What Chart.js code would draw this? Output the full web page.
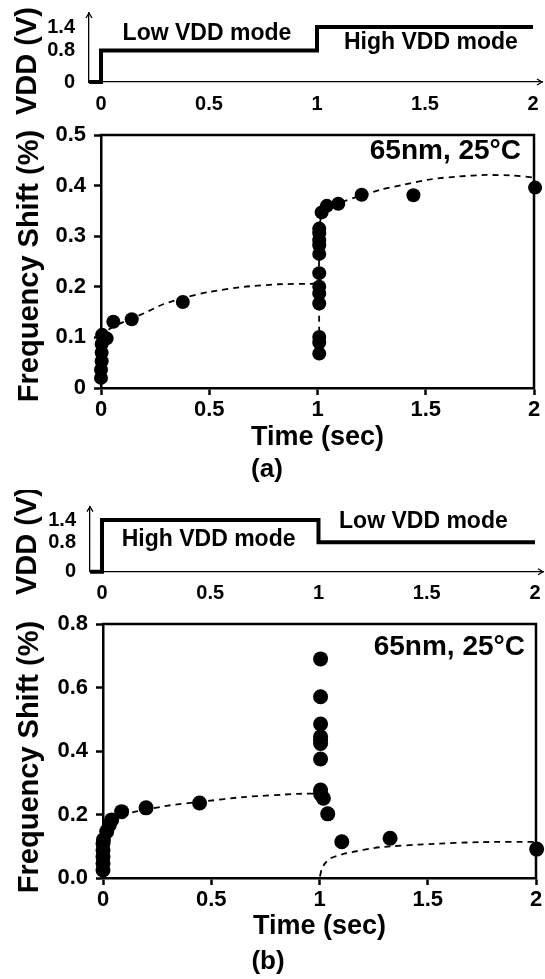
<!DOCTYPE html>
<html>
<head>
<meta charset="utf-8">
<title>Frequency shift vs time</title>
<script src="https://cdn.jsdelivr.net/npm/chart.js@4/dist/chart.umd.min.js"></script>
<style>
  body { margin: 0; background: #fff; }
  #wrap { position: relative; width: 545px; height: 979px; }
  canvas { position: absolute; left: 0; }
</style>
</head>
<body>
<div id="wrap">
  <canvas id="vddA" width="545" height="120" style="top:0px"></canvas>
  <canvas id="shiftA" width="545" height="370" style="top:120px"></canvas>
  <canvas id="vddB" width="545" height="120" style="top:490px"></canvas>
  <canvas id="shiftB" width="545" height="369" style="top:610px"></canvas>
</div>
<script>
const FONT = '"Liberation Sans", Arial, sans-serif';

// time axis (sec), same for every panel
const timeTicks = [0, 0.5, 1, 1.5, 2];
const timeTickLabels = ['0', '0.5', '1', '1.5', '2'];

// supply voltage steps
const vddTicks = [0, 0.8, 1.4];
const vddTickLabels = ['0', '0.8', '1.4'];
const vddTimeA = [-0.055, 0, 0, 1, 1, 2];
const vddLevelA = [0, 0, 0.8, 0.8, 1.4, 1.4];
const vddTimeB = [-0.055, 0, 0, 1, 1, 2];
const vddLevelB = [0, 0, 1.4, 1.4, 0.8, 0.8];

// (a) low VDD then high VDD : measured points
const timeA = [0.000, 0.000, 0.003, 0.003, 0.003, 0.005, 0.026, 0.057, 0.142, 0.378,
  1.008, 1.008, 1.008, 1.008, 1.008, 1.008, 1.008, 1.008, 1.008, 1.008, 1.008, 1.008,
  1.019, 1.043, 1.096, 1.204, 1.443, 2.005];
const shiftA = [0.020, 0.036, 0.053, 0.070, 0.087, 0.105, 0.098, 0.131, 0.136, 0.170,
  0.068, 0.090, 0.101, 0.167, 0.187, 0.200, 0.227, 0.265, 0.282, 0.292, 0.306, 0.315,
  0.347, 0.360, 0.364, 0.382, 0.381, 0.396];
// (a) dashed trends
const trendTimeA1 = [0, 0.03, 0.08, 0.14, 0.2, 0.29, 0.4, 0.5, 0.66, 0.82, 0.98, 1.0];
const trendShiftA1 = [0.100, 0.114, 0.126, 0.137, 0.148, 0.166, 0.180, 0.190, 0.200, 0.205, 0.206, 0.206];
const trendTimeA2 = [1.008, 1.008, 1.02, 1.05, 1.1, 1.2, 1.3, 1.4, 1.53, 1.65, 1.78, 1.9, 2.0];
const trendShiftA2 = [0.066, 0.310, 0.345, 0.358, 0.366, 0.380, 0.393, 0.402, 0.413, 0.418, 0.421, 0.420, 0.416];
const shiftTicksA = [0, 0.1, 0.2, 0.3, 0.4, 0.5];
const shiftTickLabelsA = ['0', '0.1', '0.2', '0.3', '0.4', '0.5'];

// (b) high VDD then low VDD : measured points
const timeB = [0.000, 0.000, 0.000, 0.000, 0.000, 0.002, 0.017, 0.029, 0.040, 0.086, 0.199, 0.446,
  1.005, 1.005, 1.005, 1.005, 1.005, 1.005, 1.005, 1.005, 1.005, 1.018, 1.038, 1.103, 1.326, 2.003];
const shiftB = [0.025, 0.046, 0.067, 0.088, 0.109, 0.120, 0.146, 0.167, 0.183, 0.209, 0.221, 0.236,
  0.690, 0.571, 0.485, 0.445, 0.435, 0.424, 0.375, 0.277, 0.265, 0.251, 0.202, 0.114, 0.125, 0.091];
// (b) dashed trends
const trendTimeB1 = [0, 0.005, 0.015, 0.03, 0.05, 0.09, 0.15, 0.3, 0.45, 0.65, 0.9, 1.0];
const trendShiftB1 = [0.120, 0.140, 0.158, 0.173, 0.186, 0.200, 0.209, 0.228, 0.240, 0.255, 0.265, 0.266];
const trendTimeB2 = [1.002, 1.01, 1.025, 1.05, 1.125, 1.28, 1.51, 1.74, 2.0];
const trendShiftB2 = [0.005, 0.027, 0.046, 0.062, 0.078, 0.097, 0.107, 0.113, 0.114];
const shiftTicksB = [0, 0.2, 0.4, 0.6, 0.8];
const shiftTickLabelsB = ['0.0', '0.2', '0.4', '0.6', '0.8'];

const pairs = (xs, ys) => xs.map((x, i) => ({ x: x, y: ys[i] }));
const bold = size => ({ family: FONT, size: size, weight: 'bold' });

// fixed ticks + fixed axis box size
function setTicks(values) {
  return scale => { scale.ticks = values.map(v => ({ value: v })); };
}
function setSize(prop, size) {
  return scale => {
    scale[prop] = size;
    scale.paddingLeft = scale.paddingRight = scale.paddingTop = scale.paddingBottom = 0;
  };
}

// text written on the chart (data coords, or pixel coords when rotated)
function notesPlugin(notes) {
  return {
    id: 'notes',
    afterDraw(chart) {
      const ctx = chart.ctx;
      const sx = chart.scales.x, sy = chart.scales.y;
      ctx.save();
      ctx.fillStyle = '#000';
      ctx.textBaseline = 'middle';
      notes.forEach(n => {
        ctx.font = 'bold ' + n.size + 'px ' + FONT;
        if (n.rotate) {
          ctx.save();
          ctx.translate(n.px, n.py);
          ctx.rotate(-Math.PI / 2);
          ctx.textAlign = 'center';
          ctx.fillText(n.text, 0, 0);
          ctx.restore();
        } else {
          ctx.textAlign = n.align || 'left';
          ctx.fillText(n.text, sx.getPixelForValue(n.x), sy.getPixelForValue(n.y));
        }
      });
      ctx.restore();
    }
  };
}

// top + right sides of the plot box
const framePlugin = {
  id: 'frame',
  beforeDatasetsDraw(chart) {
    const ctx = chart.ctx, a = chart.chartArea;
    ctx.save();
    ctx.strokeStyle = '#000';
    ctx.lineWidth = 2.5;
    ctx.lineCap = 'square';
    ctx.beginPath();
    ctx.moveTo(a.left, a.top);
    ctx.lineTo(a.right, a.top);
    ctx.lineTo(a.right, a.bottom);
    ctx.stroke();
    ctx.restore();
  }
};

// arrow heads on the VDD axes
const arrowPlugin = {
  id: 'arrows',
  afterDraw(chart) {
    const ctx = chart.ctx, a = chart.chartArea;
    ctx.save();
    ctx.strokeStyle = '#000';
    ctx.lineWidth = 1.3;
    ctx.beginPath();
    ctx.moveTo(a.left - 3, a.top + 5);
    ctx.lineTo(a.left, a.top);
    ctx.lineTo(a.left + 3, a.top + 5);
    ctx.moveTo(a.right - 5, a.bottom - 3);
    ctx.lineTo(a.right, a.bottom);
    ctx.lineTo(a.right - 5, a.bottom + 3);
    ctx.stroke();
    ctx.restore();
  }
};

function vddChart(id, times, levels, o) {
  return new Chart(document.getElementById(id), {
    type: 'scatter',
    data: {
      datasets: [{
        data: pairs(times, levels),
        showLine: true,
        borderColor: '#000',
        borderWidth: 4,
        borderJoinStyle: 'miter',
        pointRadius: 0,
        clip: false
      }]
    },
    options: {
      responsive: false,
      animation: false,
      events: [],
      layout: { padding: o.padding },
      plugins: { legend: { display: false }, tooltip: { enabled: false } },
      scales: {
        x: {
          type: 'linear', min: o.xMin, max: o.xMax,
          afterBuildTicks: setTicks(timeTicks),
          afterFit: setSize('height', o.xHeight),
          grid: { display: false },
          border: { color: '#000', width: 1.3 },
          ticks: {
            autoSkip: false, maxRotation: 0, padding: 2, color: '#000', font: bold(20),
            callback: v => timeTickLabels[timeTicks.indexOf(v)]
          }
        },
        y: {
          type: 'linear', min: 0, max: o.yMax,
          afterBuildTicks: setTicks(vddTicks),
          afterFit: setSize('width', o.yWidth),
          grid: { display: false },
          border: { color: '#000', width: 1.3 },
          ticks: {
            autoSkip: false, padding: 6, color: '#000', font: bold(20),
            callback: v => vddTickLabels[vddTicks.indexOf(v)]
          }
        }
      }
    },
    plugins: [arrowPlugin, notesPlugin(o.notes)]
  });
}

function shiftChart(id, times, shifts, trends, o) {
  const datasets = [{
    data: pairs(times, shifts),
    showLine: false,
    pointRadius: o.radius,
    pointBackgroundColor: '#000',
    pointBorderWidth: 0,
    clip: false,
    order: 0
  }];
  trends.forEach(t => datasets.push({
    data: pairs(t[0], t[1]),
    showLine: true,
    borderColor: '#000',
    borderWidth: 1.8,
    borderDash: [6, 5],
    tension: 0.2,
    pointRadius: 0,
    clip: false,
    order: 1
  }));
  const axisGrid = { display: true, drawOnChartArea: false, drawTicks: true, tickLength: 7, tickColor: '#000', tickWidth: 2.5 };
  return new Chart(document.getElementById(id), {
    type: 'scatter',
    data: { datasets: datasets },
    options: {
      responsive: false,
      animation: false,
      events: [],
      layout: { padding: o.padding },
      plugins: {
        legend: { display: false },
        tooltip: { enabled: false },
        title: {
          display: true, text: o.caption, position: 'bottom', color: '#000',
          font: bold(26), padding: { top: o.captionTop, bottom: 0 }
        }
      },
      scales: {
        x: {
          type: 'linear', min: 0, max: 2,
          afterBuildTicks: setTicks(timeTicks),
          afterFit: setSize('height', o.xHeight),
          grid: axisGrid,
          border: { color: '#000', width: 2.5 },
          title: { display: true, text: 'Time (sec)', color: '#000', font: bold(27), padding: { top: 0, bottom: 0 } },
          ticks: {
            autoSkip: false, maxRotation: 0, padding: 2, color: '#000', font: bold(22),
            callback: v => timeTickLabels[timeTicks.indexOf(v)]
          }
        },
        y: {
          type: 'linear', min: 0, max: o.yMax,
          afterBuildTicks: setTicks(o.yTicks),
          afterFit: setSize('width', o.yWidth),
          grid: axisGrid,
          border: { color: '#000', width: 2.5 },
          ticks: {
            autoSkip: false, padding: 8, color: '#000', font: bold(22),
            callback: v => o.yLabels[o.yTicks.indexOf(v)]
          }
        }
      }
    },
    plugins: [framePlugin, notesPlugin(o.notes)]
  });
}

vddChart('vddA', vddTimeA, vddLevelA, {
  padding: { top: 13, right: 3, bottom: 0, left: 0 },
  xMin: -0.0556, xMax: 2.0417, xHeight: 38,
  yMax: 1.756, yWidth: 89,
  notes: [
    { text: 'Low VDD mode', x: 0.10, y: 1.22, size: 23 },
    { text: 'High VDD mode', x: 1.125, y: 0.99, size: 23 },
    { text: 'VDD (V)', rotate: true, px: 28, py: 61, size: 29 }
  ]
});

shiftChart('shiftA', timeA, shiftA, [[trendTimeA1, trendShiftA1], [trendTimeA2, trendShiftA2]], {
  padding: { top: 15, right: 11, bottom: 4.6, left: 0 },
  xHeight: 66.2, yWidth: 101, yMax: 0.5,
  yTicks: shiftTicksA, yLabels: shiftTickLabelsA,
  radius: 7, caption: '(a)', captionTop: 0,
  notes: [
    { text: '65nm, 25°C', x: 1.94, y: 0.467, size: 28, align: 'right' },
    { text: 'Frequency Shift (%)', rotate: true, px: 30, py: 146, size: 29 }
  ]
});

vddChart('vddB', vddTimeB, vddLevelB, {
  padding: { top: 16.7, right: 2, bottom: 0, left: 0 },
  xMin: -0.0554, xMax: 2.037, xHeight: 38.3,
  yMax: 1.76, yWidth: 90,
  notes: [
    { text: 'High VDD mode', x: 0.091, y: 0.88, size: 23 },
    { text: 'Low VDD mode', x: 1.095, y: 1.35, size: 23 },
    { text: 'VDD (V)', rotate: true, px: 28, py: 51, size: 29 }
  ]
});

shiftChart('shiftB', timeB, shiftB, [[trendTimeB1, trendShiftB1], [trendTimeB2, trendShiftB2]], {
  padding: { top: 14, right: 9, bottom: 1.6, left: 0 },
  xHeight: 65.2, yWidth: 103, yMax: 0.8,
  yTicks: shiftTicksB, yLabels: shiftTickLabelsB,
  radius: 7.5, caption: '(b)', captionTop: 3,
  notes: [
    { text: '65nm, 25°C', x: 1.949, y: 0.728, size: 28, align: 'right' },
    { text: 'Frequency Shift (%)', rotate: true, px: 30, py: 147, size: 29 }
  ]
});
</script>
</body>
</html>
